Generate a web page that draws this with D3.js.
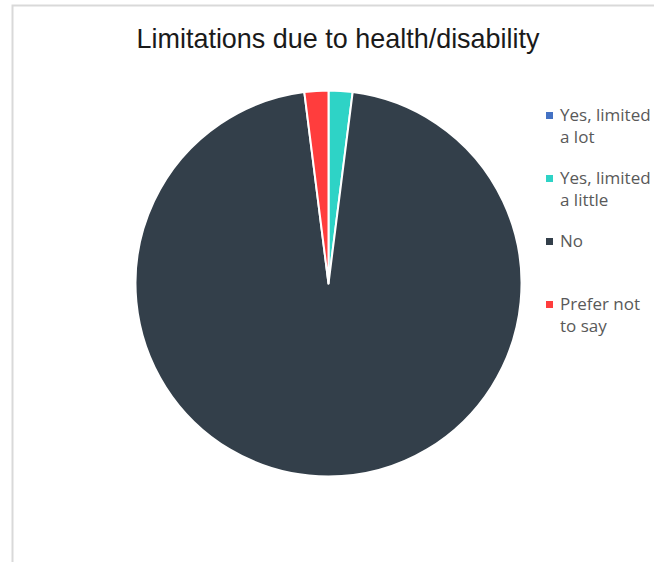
<!DOCTYPE html>
<html><head><meta charset="utf-8">
<script src="https://cdn.jsdelivr.net/npm/d3@7"></script>
<style>body{margin:0;background:#fff}svg{display:block}</style>
</head><body>
<svg id="c" width="654" height="562"></svg>
<script>
const title = "Limitations due to health/disability";
const categories = ["Yes, limited a lot", "Yes, limited a little", "No", "Prefer not to say"];
const legendLines = [["Yes, limited", "a lot"], ["Yes, limited", "a little"], ["No"], ["Prefer not", "to say"]];
const values = [0, 2, 96, 2];
const colors = ["#4472C4", "#2ED3C6", "#333F4A", "#FF3D3D"];

const svg = d3.select("#c");
// frame
svg.append("path").attr("d", "M12.5,562 V5.5 H654").attr("fill", "none").attr("stroke", "#D9D9D9").attr("stroke-width", 2);

svg.append("text").attr("x", 338).attr("y", 48).attr("text-anchor", "middle")
  .attr("font-family", "Liberation Sans, Arial, sans-serif").attr("font-size", 28)
  .attr("textLength", 403).attr("lengthAdjust", "spacingAndGlyphs")
  .attr("fill", "#1a1a1a").text(title);

const cx = 328.5, cy = 283.5, r = 193;
const data = categories.map((c, i) => ({c, v: values[i], col: colors[i]}));
const pie = d3.pie().value(d => d.v).sort(null);
const arc = d3.arc().innerRadius(0).outerRadius(r);
const color = d3.scaleOrdinal().domain(categories).range(colors);
svg.append("g").attr("transform", `translate(${cx},${cy})`)
  .selectAll("path").data(pie(data)).join("path")
  .attr("d", arc).attr("fill", d => color(d.data.c))
  .attr("stroke", "#fff").attr("stroke-width", 2).attr("stroke-linejoin", "round");

const legY = [121, 184, 247, 310];
const lg = svg.append("g");
data.forEach((d, i) => {
  lg.append("rect").attr("x", 546).attr("y", legY[i] - 9).attr("width", 7).attr("height", 7).attr("fill", color(d.c));
  const t = lg.append("text").attr("font-family", "Open Sans, sans-serif").attr("font-size", 17).attr("fill", "#595959");
  legendLines[i].forEach((ln, j) => {
    t.append("tspan").attr("x", 560).attr("y", legY[i] + j * 21.5).text(ln);
  });
});
</script>
</body></html>
